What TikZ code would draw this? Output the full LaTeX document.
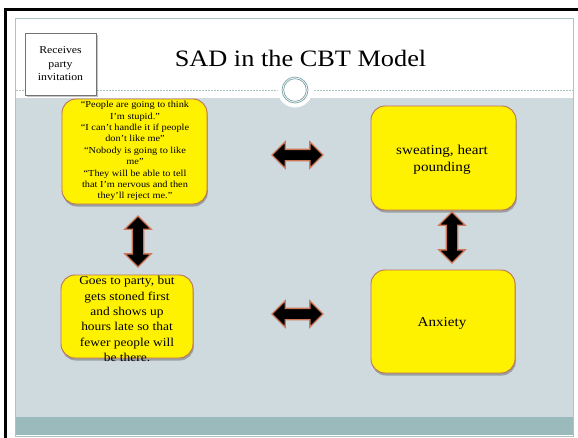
\documentclass[tikz,border=0pt]{standalone}
\usepackage{fontspec}
\setmainfont{Liberation Serif}[FakeStretch=1.12]
\usetikzlibrary{shapes.arrows,shadows}
\definecolor{slidegray}{RGB}{207,218,223}
\definecolor{footteal}{RGB}{155,186,187}
\definecolor{rulegray}{RGB}{172,196,198}
\definecolor{ringteal}{RGB}{128,163,166}
\definecolor{boxedge}{RGB}{188,112,88}
\definecolor{arrowedge}{RGB}{206,118,88}
\begin{document}
\begin{tikzpicture}[x=1pt,y=-1pt,
  ybox/.style={rectangle, rounded corners=14pt, fill=yellow, draw=boxedge,
    line width=0.9pt, inner sep=0pt,
    drop shadow={shadow xshift=0.8pt, shadow yshift=-2.5pt, opacity=0.5, fill=black!60}},
  txt/.style={inner sep=0pt, align=center},
  blockarrow/.style={double arrow, fill=black, draw=arrowedge, line width=1.3pt,
    inner xsep=0pt, inner ysep=5pt, minimum height=51pt, minimum width=25pt,
    double arrow head extend=7.5pt}
]
\useasboundingbox (0,0) rectangle (578,437);

% slide page and outer frame
\fill[white] (0,0) rectangle (578,437);
\draw[line width=2.2pt] (5.5,9.5) rectangle (600,460);
\fill[slidegray] (15.5,98) rectangle (573.5,417);
\fill[footteal] (15.5,417) rectangle (573.5,435);
\draw[rulegray, line width=0.8pt] (15.5,18.5) rectangle (573.5,436);

% title rule with ring ornament
\draw[rulegray, line width=0.6pt, dash pattern=on 2pt off 1pt] (15.5,90) -- (277,90);
\draw[rulegray, line width=0.6pt, dash pattern=on 2pt off 1pt] (314,90) -- (573.5,90);
\fill[white] (295,90) circle (17.5);
\draw[ringteal, line width=0.7pt] (295,90) circle (13) (295,90) circle (11.3);

% title
\node[inner sep=0pt, anchor=base, font=\fontsize{23.5}{28}\selectfont] (title) at (300.5,66) {SAD in the CBT Model};

% trigger box
\node[rectangle, fill=white, draw=black!55, line width=0.8pt, minimum width=71pt, minimum height=62pt,
  drop shadow={shadow xshift=1.5pt, shadow yshift=-1.5pt, opacity=0.45}] (trigger) at (60.5,64) {};
\node[txt, font=\fontsize{10.5}{13.5}\selectfont] (triggerT) at (trigger.center) {Receives\\party\\invitation};

% four yellow boxes
\node[ybox, minimum width=145pt, minimum height=105pt] (think) at (134.5,151.5) {};
\node[ybox, minimum width=145pt, minimum height=104pt] (body) at (443.5,158) {};
\node[ybox, minimum width=132pt, minimum height=83pt] (act) at (127,316.5) {};
\node[ybox, minimum width=144pt, minimum height=103pt] (feel) at (443,321.5) {};

\node[txt, font=\fontsize{9.2}{11.4}\selectfont] (thinkT) at (135,151) {%
“People are going to think\\I’m stupid.”\\“I can’t handle it if people\\don’t like me”\\%
“Nobody is going to like\\me”\\“They will be able to tell\\that I’m nervous and then\\they’ll reject me.”};
\node[txt, font=\fontsize{13.5}{17}\selectfont] (bodyT) at (442,160) {sweating, heart\\pounding};
\node[txt, font=\fontsize{12}{15.3}\selectfont] (actT) at (127,319) {Goes to party, but\\gets stoned first\\and shows up\\hours late so that\\fewer people will\\be there.};
\node[txt, font=\fontsize{13.5}{17}\selectfont] (feelT) at (442,323) {Anxiety};

% two-way block arrows between the boxes
\node[blockarrow] (a1) at (297.5,155) {};
\node[blockarrow] (a2) at (297.5,314) {};
\node[blockarrow, rotate=90] (a3) at (138,241.5) {};
\node[blockarrow, rotate=90] (a4) at (452,237.5) {};
\end{tikzpicture}
\end{document}
